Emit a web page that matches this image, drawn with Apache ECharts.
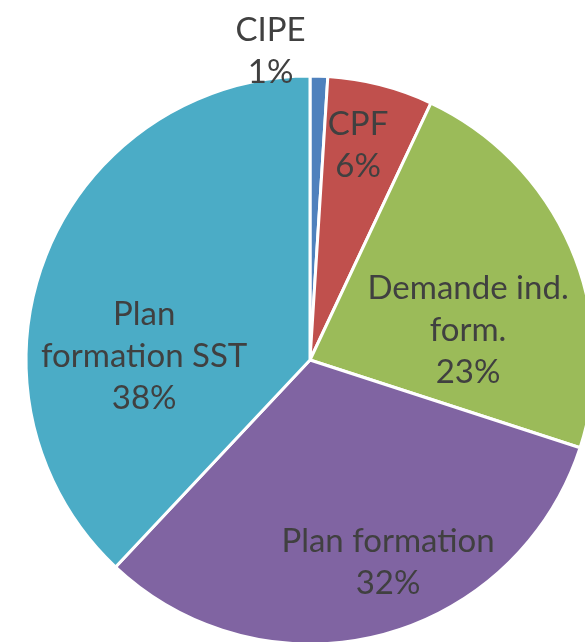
<!DOCTYPE html>
<html>
<head>
<meta charset="utf-8">
<style>
  html, body { margin: 0; padding: 0; background: #fff; }
  #chart { width: 585px; height: 642px; }
</style>
<script src="https://cdn.jsdelivr.net/npm/echarts@6/dist/echarts.min.js"></script>
</head>
<body>
<div id="chart"></div>
<script>
// catégories et parts (%)
const categories = ['CIPE', 'CPF', 'Demande ind.\nform.', 'Plan formation', 'Plan\nformation SST']
const shares = [1, 6, 23, 32, 38]
const colors = ['#4F81BD', '#C0504D', '#9BBB59', '#8064A2', '#4BACC6']

// décalage des étiquettes (placement "best fit" d'Excel)
const labelShift = [[-44, -164], [12, -74], [25, 28], [42, 62], [-31, 50]]

const chart = echarts.init(document.getElementById('chart'))

chart.setOption({
  backgroundColor: '#ffffff',
  animation: false,
  series: [{
    type: 'pie',
    center: [310, 360],
    radius: 284,
    startAngle: 90,
    clockwise: true,
    avoidLabelOverlap: false,
    itemStyle: {
      borderColor: '#ffffff',
      borderWidth: 3
    },
    label: {
      show: true,
      position: 'inside',
      formatter: '{b}\n{d}%',
      fontFamily: 'Lato',
      fontSize: 33,
      lineHeight: 42,
      color: '#404040'
    },
    labelLine: { show: false },
    labelLayout: function (params) {
      const s = labelShift[params.dataIndex]
      return { dx: s[0], dy: s[1] }
    },
    data: categories.map(function (name, i) {
      return { name: name, value: shares[i], itemStyle: { color: colors[i] } }
    })
  }]
})
</script>
</body>
</html>
